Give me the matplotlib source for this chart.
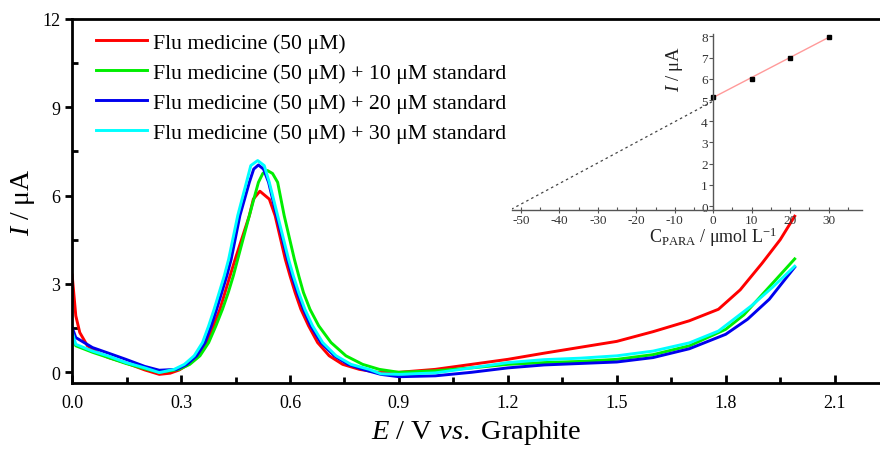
import matplotlib
matplotlib.use('Agg')
import matplotlib.pyplot as plt
import matplotlib.ticker as ticker

# fonts: Times-like serif, italic symbols via mathtext
plt.rcParams.update({
    'font.family': ['Liberation Serif', 'DejaVu Serif'],
    'mathtext.fontset': 'custom',
    'mathtext.rm': 'Liberation Serif',
    'mathtext.it': 'Liberation Serif:italic',
    'axes.linewidth': 2,
    'axes.unicode_minus': False,
})

# DPV curves (E in V, I in uA)
e_red = [0, 0.01, 0.021, 0.042, 0.07, 0.1, 0.148, 0.2, 0.24, 0.27, 0.295, 0.32, 0.348, 0.371,
         0.389, 0.407, 0.421, 0.435, 0.449, 0.488, 0.499, 0.517, 0.543, 0.559, 0.587, 0.6,
         0.614, 0.63, 0.651, 0.676, 0.708, 0.745, 0.791, 0.846, 0.9, 1.0, 1.1, 1.2, 1.3,
         1.4, 1.5, 1.6, 1.7, 1.78, 1.84, 1.9, 1.95, 1.99]
i_red = [3.3, 1.92, 1.35, 0.9, 0.67, 0.5, 0.32, 0.08, -0.07, -0.03, 0.08, 0.27, 0.56, 1.01,
         1.58, 2.14, 2.71, 3.28, 3.84, 5.32, 5.88, 6.15, 5.88, 5.32, 3.84, 3.28,
         2.71, 2.14, 1.58, 1.01, 0.56, 0.27, 0.1, -0.01, 0.0, 0.1, 0.27, 0.44, 0.65,
         0.85, 1.05, 1.38, 1.75, 2.14, 2.8, 3.7, 4.5, 5.3]

e_green = [0, 0.01, 0.056, 0.1, 0.148, 0.2, 0.24, 0.295, 0.324, 0.352, 0.376, 0.396, 0.414,
           0.43, 0.444, 0.456, 0.488, 0.513, 0.525, 0.538, 0.552, 0.566, 0.584, 0.612, 0.624,
           0.637, 0.655, 0.679, 0.713, 0.754, 0.8, 0.846, 0.9, 1.0, 1.1, 1.2, 1.3, 1.4, 1.5,
           1.6, 1.7, 1.8, 1.85, 1.92, 1.99]
i_green = [1.21, 0.9, 0.68, 0.5, 0.3, 0.12, 0.0, 0.1, 0.27, 0.56, 1.01, 1.58, 2.14,
           2.71, 3.28, 3.84, 5.32, 6.45, 6.75, 6.85, 6.75, 6.45, 5.32, 3.84, 3.28,
           2.71, 2.14, 1.58, 1.01, 0.56, 0.27, 0.1, 0.0, 0.05, 0.15, 0.27, 0.33, 0.37, 0.44,
           0.6, 0.9, 1.46, 1.95, 2.9, 3.85]

e_blue = [0, 0.01, 0.056, 0.1, 0.148, 0.2, 0.24, 0.288, 0.316, 0.343, 0.366, 0.383, 0.398,
          0.412, 0.426, 0.438, 0.462, 0.488, 0.5, 0.513, 0.527, 0.541, 0.563, 0.593, 0.605,
          0.62, 0.637, 0.657, 0.685, 0.722, 0.76, 0.8, 0.85, 0.9, 1.0, 1.1, 1.2, 1.3, 1.4,
          1.5, 1.6, 1.7, 1.8, 1.86, 1.92, 1.99]
i_blue = [1.52, 1.18, 0.84, 0.65, 0.44, 0.2, 0.07, 0.1, 0.27, 0.56, 1.01, 1.58, 2.14,
          2.71, 3.28, 3.84, 5.32, 6.45, 6.9, 7.04, 6.9, 6.45, 5.32, 3.84, 3.28,
          2.71, 2.14, 1.58, 1.01, 0.56, 0.27, 0.1, -0.07, -0.15, -0.12, 0.0, 0.15, 0.25, 0.3,
          0.35, 0.5, 0.8, 1.29, 1.8, 2.48, 3.57]

e_cyan = [0, 0.01, 0.056, 0.1, 0.148, 0.2, 0.24, 0.281, 0.309, 0.336, 0.359, 0.376, 0.391,
          0.405, 0.419, 0.431, 0.456, 0.48, 0.492, 0.511, 0.529, 0.543, 0.566, 0.596, 0.609,
          0.624, 0.641, 0.662, 0.69, 0.727, 0.768, 0.818, 0.85, 0.9, 1.0, 1.1, 1.2, 1.3, 1.4,
          1.5, 1.6, 1.7, 1.78, 1.87, 1.93, 1.99]
i_cyan = [1.37, 0.95, 0.72, 0.55, 0.33, 0.15, -0.01, 0.1, 0.27, 0.56, 1.01, 1.58, 2.14,
          2.71, 3.28, 3.84, 5.32, 6.45, 7.02, 7.19, 7.02, 6.45, 5.32, 3.84, 3.28,
          2.71, 2.14, 1.58, 1.01, 0.56, 0.27, 0.1, -0.05, -0.07, -0.02, 0.15, 0.33, 0.43, 0.48,
          0.56, 0.72, 1.0, 1.4, 2.25, 2.9, 3.6]

labels = ['Flu medicine (50 μM)',
          'Flu medicine (50 μM) + 10 μM standard',
          'Flu medicine (50 μM) + 20 μM standard',
          'Flu medicine (50 μM) + 30 μM standard']
colors = ['#ff0000', '#00ee00', '#0000ee', '#00ffff']

# standard addition inset
c_added = [0, 10, 20, 30]
i_peak = [5.15, 6.0, 7.0, 7.95]
fit_x = [0, 30]
fit_y = [5.12, 7.95]
extra_x = [-52.5, 0]
extra_y = [-0.15, 4.95]

fig = plt.figure(figsize=(8.8, 4.52), dpi=100)
ax = fig.add_axes([0.082, 0.150, 0.918, 0.806])

curves = [(e_red, i_red), (e_green, i_green), (e_blue, i_blue), (e_cyan, i_cyan)]
for (e, i), c, lab in zip(curves, colors, labels):
    ax.plot(e, i, color=c, lw=2.1, label=lab, solid_joinstyle='round')

ax.set_xlim(0, 2.225)
ax.set_ylim(-0.37, 12)
ax.xaxis.set_major_locator(ticker.MultipleLocator(0.3))
ax.xaxis.set_minor_locator(ticker.MultipleLocator(0.15))
ax.yaxis.set_major_locator(ticker.MultipleLocator(3))
ax.yaxis.set_minor_locator(ticker.MultipleLocator(1.5))
ax.xaxis.set_major_formatter(ticker.FormatStrFormatter('%.1f'))
ax.spines['right'].set_visible(False)
ax.tick_params(axis='x', which='both', direction='in', labelsize=13, pad=8, width=2)
ax.tick_params(axis='x', which='major', length=6)
ax.tick_params(axis='x', which='minor', length=4)
ax.tick_params(axis='y', which='major', direction='out', length=5, width=2, labelsize=13)
ax.tick_params(axis='y', which='minor', direction='in', length=4, width=2)
ax.set_xlabel(r'$\it{E}$ / V $\it{vs.}$ Graphite', fontsize=20.5, labelpad=4)
ax.set_ylabel(r'$\it{I}$ / μA', fontsize=20, labelpad=4)

ax.legend(loc='upper left', bbox_to_anchor=(0.03, 0.962), frameon=False, fontsize=15.7,
          handlelength=2.3, handletextpad=0.28, labelspacing=0.44, borderpad=0,
          borderaxespad=0)

# inset
ins = fig.add_axes([0.582, 0.533, 0.398, 0.389])
ins.patch.set_alpha(0)
ins.plot(extra_x, extra_y, color='#444444', lw=0.9, ls=(0, (2, 2.5)))
ins.plot(fit_x, fit_y, color='#ff9a9a', lw=1)
ins.plot(c_added, i_peak, 's', color='black', ms=2.5)
ins.set_xlim(-52.3, 38.8)
ins.set_ylim(-0.19, 8.1)
ins.spines['top'].set_visible(False)
ins.spines['right'].set_visible(False)
ins.spines['left'].set_position(('data', 0))
for s in ['left', 'bottom']:
    ins.spines[s].set_linewidth(1)
    ins.spines[s].set_color('#555555')
ins.xaxis.set_major_locator(ticker.MultipleLocator(10))
ins.xaxis.set_minor_locator(ticker.MultipleLocator(5))
ins.yaxis.set_major_locator(ticker.MultipleLocator(1))
ins.tick_params(which='both', colors='#555555', labelcolor='#333333', labelsize=9.5,
                width=0.8, pad=1)
ins.tick_params(axis='x', which='major', direction='inout', length=4)
ins.tick_params(axis='x', which='minor', direction='in', length=2)
ins.tick_params(axis='y', which='major', direction='out', length=3)
ins.set_xlabel(r'C$_{\mathregular{PARA}}$ / μmol L$^{\mathregular{-1}}$', fontsize=13,
               color='#222222', labelpad=0)
ins.xaxis.set_label_coords(0.574, -0.085, transform=ins.transAxes)
ins.set_ylabel(r'$\it{I}$ / μA', fontsize=13.5, color='#222222')
ins.yaxis.set_label_coords(0.494, 0.81, transform=ins.transAxes)

fig.savefig('out.png', dpi=100)
